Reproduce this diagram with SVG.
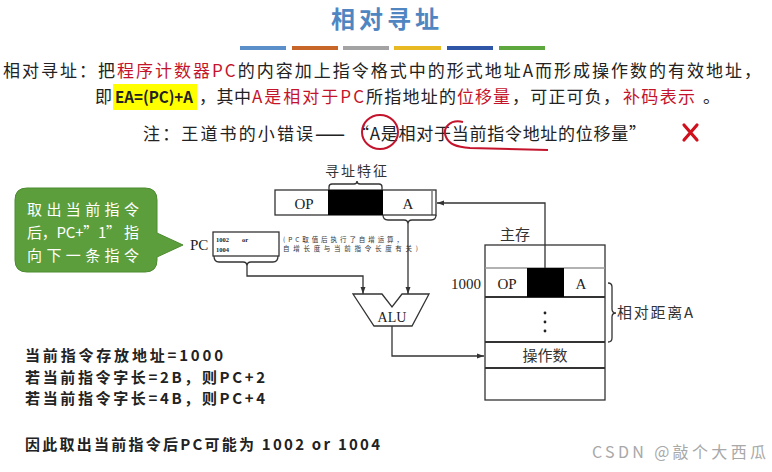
<svg xmlns="http://www.w3.org/2000/svg" width="772" height="472" viewBox="0 0 772 472">
<style>
.cj{font-family:"Noto Sans CJK SC","Noto Sans",sans-serif;}
.body{font-size:17px;fill:#222;}
.red{fill:#c4142c;}
.sf{font-family:"Liberation Serif","Noto Sans CJK SC",serif;fill:#222;}
.ln{fill:none;stroke:#333;stroke-width:1.3;}
.note{font-family:"Noto Sans CJK SC",sans-serif;font-size:15px;fill:#222;font-weight:bold;}
.bub{font-family:"Noto Sans CJK SC",sans-serif;font-size:15px;fill:#ffffff;}
</style>
<defs>
<marker id="ah" viewBox="0 0 10 10" refX="10" refY="5" markerWidth="7" markerHeight="7" orient="auto" markerUnits="userSpaceOnUse">
<path d="M0,1.5 L10,5 L0,8.5 Z" fill="#333"/>
</marker>
</defs>
<rect width="772" height="472" fill="#ffffff"/>

<g id="title">
<text class="cj" x="385" y="28" font-size="24" font-weight="bold" fill="#4f86c2" text-anchor="middle" textLength="108" lengthAdjust="spacing">相对寻址</text>
<rect x="240" y="46" width="46" height="4" fill="#5b8fc9"/>
<rect x="292" y="46" width="46" height="4" fill="#c8662a"/>
<rect x="343" y="46" width="46" height="4" fill="#a3a3a3"/>
<rect x="394" y="46" width="47" height="4" fill="#e8b923"/>
<rect x="447" y="46" width="46" height="4" fill="#2f56a6"/>
<rect x="499" y="46" width="46" height="4" fill="#5ea73e"/>
</g>

<g id="definition">
<text class="cj body" x="3" y="77" textLength="758" lengthAdjust="spacing">相对寻址：把<tspan class="red">程序计数器PC</tspan>的内容加上指令格式中的形式地址A而形成操作数的有效地址，</text>
<text class="cj body" x="95" y="103">即</text>
<rect x="113" y="84" width="84" height="26" fill="#ffff00"/>
<text x="115" y="103" font-family="Noto Sans CJK SC,sans-serif" font-size="16" font-weight="bold" fill="#222" textLength="78" lengthAdjust="spacingAndGlyphs">EA=(PC)+A</text>
<text class="cj body" x="199" y="103" textLength="52" lengthAdjust="spacing">，其中</text>
<text class="cj body red" x="252" y="103" textLength="112" lengthAdjust="spacing">A是相对于PC</text>
<text class="cj body" x="366" y="103" textLength="90" lengthAdjust="spacing">所指地址的</text>
<text class="cj body red" x="457" y="103" textLength="53" lengthAdjust="spacing">位移量</text>
<text class="cj body" x="512" y="103" textLength="108" lengthAdjust="spacing">，可正可负，</text>
<text class="cj body red" x="623" y="103" textLength="72" lengthAdjust="spacing">补码表示</text>
<text class="cj body" x="703" y="103">。</text>
</g>

<g id="remark">
<text class="cj body" x="143" y="140" textLength="170" lengthAdjust="spacing">注：王道书的小错误</text>
<text class="cj body" x="315" y="140" textLength="30" lengthAdjust="spacingAndGlyphs" font-weight="bold">——</text>
<text class="cj body" x="352" y="140" textLength="294" lengthAdjust="spacing">“A是相对于当前指令地址的位移量”</text>
<ellipse cx="380" cy="132" rx="18" ry="17" fill="none" stroke="#c4142c" stroke-width="2"/>
<path d="M463 122 C450 119 442 128 446 137 C449 144 456 147 470 148 L548 150" fill="none" stroke="#c4142c" stroke-width="2"/>
<path d="M684 125 L697 140 M697 125 L684 140" stroke="#d0101c" stroke-width="3.2" stroke-linecap="round" fill="none"/>
</g>

<g id="bubble">
<path d="M27 188 H145 Q157 188 157 200 V233 L183 245 L157 257 V260 Q157 272 145 272 H27 Q15 272 15 260 V200 Q15 188 27 188 Z" fill="#5c9e3c" stroke="#4c8c30" stroke-width="1"/>
<text class="bub" x="27" y="215" textLength="112" lengthAdjust="spacing">取出当前指令</text>
<text class="bub" x="27" y="238" textLength="112" lengthAdjust="spacing">后，PC+”1” 指</text>
<text class="bub" x="27" y="261" textLength="112" lengthAdjust="spacing">向下一条指令</text>
</g>

<g id="pc-register">
<text class="sf" x="190" y="250" font-size="15">PC</text>
<rect x="213" y="232" width="66" height="24" fill="#fff" stroke="#333" stroke-width="1.3"/>
<path class="ln" d="M214 256 Q214 262 219 262 H243 Q247 262 247 266 Q247 262 251 262 H273 Q278 262 278 256"/>
<text class="sf" x="216" y="242" font-size="6.5" font-weight="bold">1002</text>
<text class="sf" x="242" y="242" font-size="6.5" font-weight="bold">or</text>
<text class="sf" x="216" y="252" font-size="6.5" font-weight="bold">1004</text>
<text class="cj" x="283" y="242" font-size="6.5" fill="#333" textLength="120" lengthAdjust="spacing">(PC取值后执行了自增运算，</text>
<text class="cj" x="283" y="251" font-size="6.5" fill="#333" textLength="135" lengthAdjust="spacing">自增长度与当前指令长度有关)</text>
</g>

<g id="instruction-register">
<text class="cj" x="356" y="176" font-size="14" fill="#333" text-anchor="middle" textLength="62" lengthAdjust="spacing">寻址特征</text>
<path class="ln" d="M329 190 V187 Q329 184 332 184 H354 Q357 184 357 181 Q357 184 360 184 H379 Q382 184 382 187 V190"/>
<rect x="275" y="190" width="161" height="25" fill="#fff" stroke="#333" stroke-width="1.3"/>
<rect x="328" y="190" width="55" height="25" fill="#000"/>
<line x1="432" y1="191" x2="432" y2="215" stroke="#333" stroke-width="1"/>
<path class="ln" d="M383 215 Q383 220 388 220 H404 Q408 220 408 224 Q408 220 412 220 H431 Q436 220 436 215"/>
<text class="sf" x="304" y="209" font-size="15" text-anchor="middle">OP</text>
<text class="sf" x="408" y="209" font-size="15" text-anchor="middle">A</text>
</g>

<g id="alu">
<polygon points="353,294 382,294 392,307 402,294 429,294 412,326 374,326" fill="#fff" stroke="#333" stroke-width="1.3"/>
<text class="sf" x="392" y="322" font-size="14" text-anchor="middle">ALU</text>
</g>

<g id="main-memory">
<text class="cj" x="515" y="240" font-size="15" fill="#333" text-anchor="middle">主存</text>
<rect x="485" y="245" width="120" height="155" fill="#fff" stroke="#333" stroke-width="1.3"/>
<line x1="485" y1="268" x2="605" y2="268" stroke="#999" stroke-width="1.5"/>
<line x1="485" y1="297" x2="605" y2="297" stroke="#333" stroke-width="2"/>
<line x1="485" y1="342" x2="605" y2="342" stroke="#333" stroke-width="2"/>
<line x1="485" y1="368" x2="605" y2="368" stroke="#333" stroke-width="2"/>
<rect x="527" y="268" width="37" height="29" fill="#000"/>
<text class="sf" x="507" y="289" font-size="15" text-anchor="middle">OP</text>
<text class="sf" x="581" y="289" font-size="15" text-anchor="middle">A</text>
<text class="sf" x="481" y="289" font-size="15" text-anchor="end">1000</text>
<circle cx="545" cy="313" r="1.4" fill="#222"/>
<circle cx="545" cy="322" r="1.4" fill="#222"/>
<circle cx="545" cy="331" r="1.4" fill="#222"/>
<text class="cj" x="545" y="361" font-size="15" fill="#333" text-anchor="middle">操作数</text>
<path class="ln" d="M608 283 Q612 283 612 287 V309 Q612 313 616 313 Q612 313 612 317 V338 Q612 342 608 342"/>
<text class="cj" x="617" y="318" font-size="15" fill="#333" textLength="76" lengthAdjust="spacing">相对距离A</text>
</g>

<g id="connectors">
<path class="ln" d="M247 266 V276 H363 V294" marker-end="url(#ah)"/>
<path class="ln" d="M408 224 V294" marker-end="url(#ah)"/>
<path class="ln" d="M392 326 V356 H484" marker-end="url(#ah)"/>
<path class="ln" d="M545 268 V203 H437" marker-end="url(#ah)"/>
</g>

<g id="notes">
<text class="note" x="25" y="361" textLength="198" lengthAdjust="spacing">当前指令存放地址=1000</text>
<text class="note" x="25" y="383" textLength="240" lengthAdjust="spacing">若当前指令字长=2B，则PC+2</text>
<text class="note" x="25" y="404" textLength="240" lengthAdjust="spacing">若当前指令字长=4B，则PC+4</text>
<text class="note" x="25" y="450" textLength="355" lengthAdjust="spacing">因此取出当前指令后PC可能为 1002 or 1004</text>
</g>

<g id="watermark">
<text class="cj" x="592" y="458" font-size="16" fill="#a8a8a8" textLength="174" lengthAdjust="spacing">CSDN @敲个大西瓜</text>
</g>
</svg>
